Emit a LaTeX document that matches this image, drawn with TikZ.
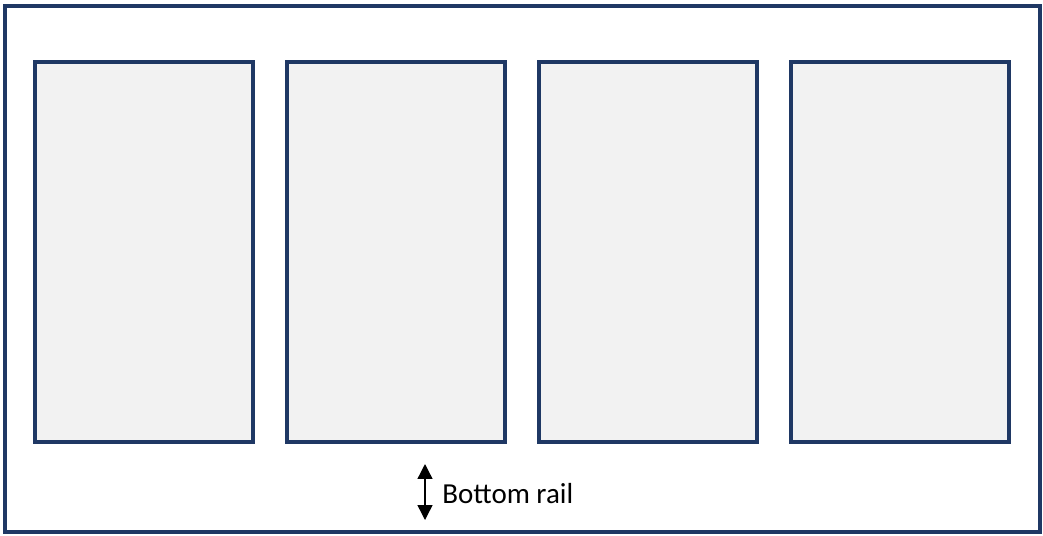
\documentclass[tikz,border=0pt]{standalone}
\usepackage{fontspec}
\setmainfont{Carlito}
\usetikzlibrary{arrows.meta, positioning}
\definecolor{DeepNavy}{HTML}{1F3864}
\definecolor{PanelGrey}{HTML}{F2F2F2}

\begin{document}
\begin{tikzpicture}[x=0.02cm, y=-0.02cm,
    frame/.style={draw=DeepNavy, line width=1.75pt},
    panel/.style={draw=DeepNavy, line width=1.75pt, fill=PanelGrey}]
\useasboundingbox (0,0) rectangle (1043,535);
\draw[frame] (5,6) rectangle (1040,532);
\foreach \i/\x in {1/35, 2/287, 3/539, 4/791} {
    \draw[panel] (\x,62) rectangle ++(218,380);
}
\coordinate (railtop) at (425,464);
\coordinate (railbot) at (425,520);
\draw[line width=0.8pt, {Triangle[width=8.5pt,length=8.5pt]}-{Triangle[width=8.5pt,length=8.5pt]}] (railtop) -- (railbot);
\node[anchor=west, font=\fontsize{16.5}{19}\selectfont, inner sep=0pt] (raillabel) at (442,494) {Bottom rail};
\end{tikzpicture}
\end{document}
